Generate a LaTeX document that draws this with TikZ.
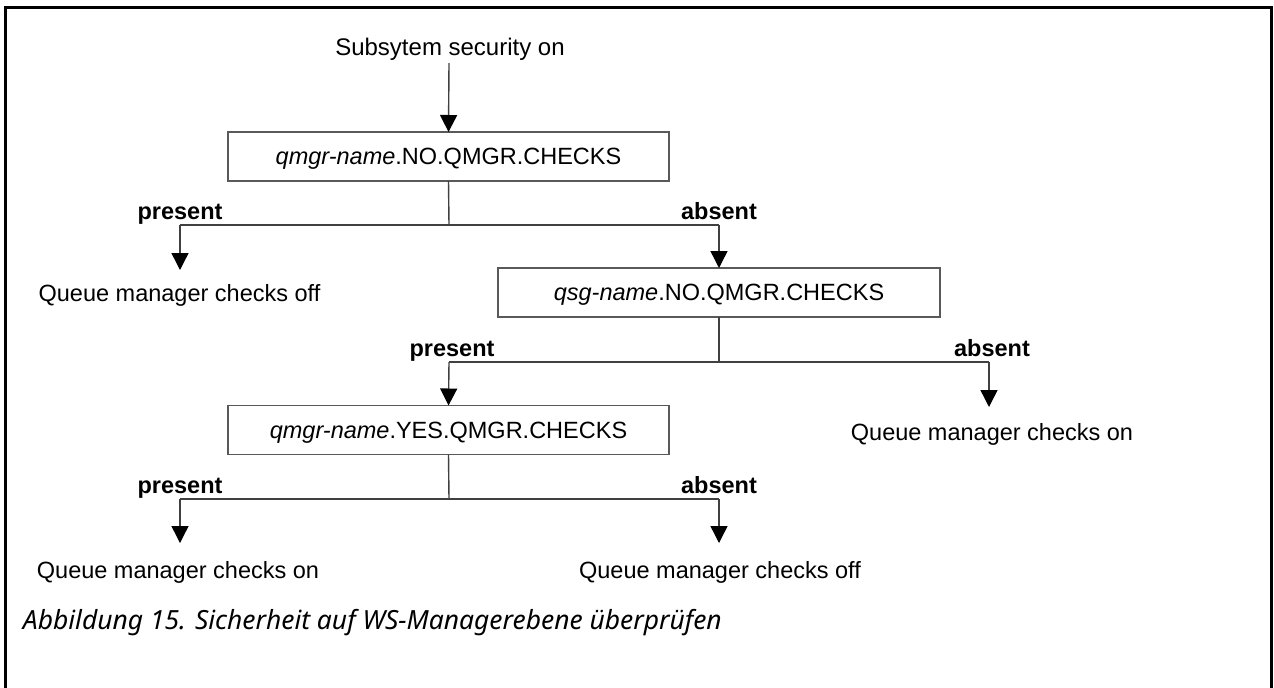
\documentclass[tikz,border=0pt]{standalone}
\usepackage{fontspec}
\setmainfont{Liberation Sans}
\newfontfamily\capfont{Noto Sans}
\usetikzlibrary{arrows.meta}
\begin{document}
\begin{tikzpicture}[x=0.5pt,y=-0.5pt,
  every node/.style={inner sep=0pt,outer sep=0pt},
  dfont/.style={font=\fontsize{11.75pt}{14pt}\selectfont},
  lbl/.style={font=\fontsize{11.75pt}{14pt}\selectfont\bfseries,anchor=base},
  outtext/.style={dfont,anchor=base},
  chkbox/.style={draw=black!65,line width=0.7pt,dfont,minimum height=24.5pt,
     text height=8.4pt,text depth=0pt},
  conn/.style={draw=black!75,line width=0.7pt},
  arr/.style={conn,-{Triangle[width=8.5pt,length=8.5pt,fill=black,color=black]}}
]
\useasboundingbox (0,0) rectangle (1274,687);
\draw[line width=1.5pt,black] (5,690) -- (5,7) -- (1271,7) -- (1271,690);

% top text
\node[outtext,font=\fontsize{12pt}{14pt}\selectfont] (start) at (450,55.5) {Subsytem security on};
\coordinate (startb) at (449,63);

% boxes
\node[chkbox,minimum width=220.5pt] (b1) at (448.5,156.5) {\itshape qmgr-name\upshape.NO.QMGR.CHECKS};
\node[chkbox,minimum width=221pt] (b2) at (719,292.5) {\itshape qsg-name\upshape.NO.QMGR.CHECKS};
\node[chkbox,minimum width=220.5pt] (b3) at (448.5,430) {\itshape qmgr-name\upshape.YES.QMGR.CHECKS};

% outcome texts
\node[outtext] (o1) at (179.5,301.5) {Queue manager checks off};
\node[outtext] (o2) at (992,440.5) {Queue manager checks on};
\node[outtext] (o3) at (178,578.5) {Queue manager checks on};
\node[outtext] (o4) at (720,578.5) {Queue manager checks off};

% arrow endpoints above outcome texts
\coordinate (o1t) at (180,270);
\coordinate (o2t) at (989,407);
\coordinate (o3t) at (180,543);
\coordinate (o4t) at (719,543);

% junction coordinates
\coordinate (j1) at (449,225);
\coordinate (l1) at (180,225);
\coordinate (r1) at (719,225);
\coordinate (j2) at (719,362);
\coordinate (l2) at (449,362);
\coordinate (r2) at (989,362);
\coordinate (j3) at (449,499);
\coordinate (l3) at (180,499);
\coordinate (r3) at (719,499);

% labels
\node[lbl] (p1) at (180,219) {present};
\node[lbl] (a1) at (719,219) {absent};
\node[lbl] (p2) at (452,356) {present};
\node[lbl] (a2) at (992,356) {absent};
\node[lbl] (p3) at (180,493) {present};
\node[lbl] (a3) at (719,493) {absent};

% connectors
\draw[arr] (startb) -- (b1.north);
\draw[conn] (b1.south) -- (j1);
\draw[conn] (l1) -- (r1);
\draw[arr] (l1) -- (o1t);
\draw[arr] (r1) -- (b2.north);

\draw[conn] (b2.south) -- (j2);
\draw[conn] (l2) -- (r2);
\draw[arr] (l2) -- (b3.north);
\draw[arr] (r2) -- (o2t);

\draw[conn] (b3.south) -- (j3);
\draw[conn] (l3) -- (r3);
\draw[arr] (l3) -- (o3t);
\draw[arr] (r3) -- (o4t);

% caption
\node[anchor=base west,font=\capfont\itshape\fontsize{13.2pt}{15pt}\selectfont] (cap) at (23,629) {Abbildung 15. Sicherheit auf WS-Managerebene überprüfen};
\end{tikzpicture}
\end{document}
